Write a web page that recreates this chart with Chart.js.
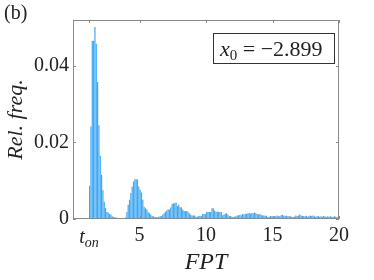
<!DOCTYPE html>
<html lang="en">
<head>
<meta charset="UTF-8">
<title>FPT histogram</title>
<script src="https://cdn.jsdelivr.net/npm/chart.js"></script>
<style>
  body { margin: 0; background: #fff; }
  canvas { display: block; }
</style>
</head>
<body>
<canvas id="fptHist" width="374" height="280"></canvas>
<script>
  // histogram bins: left edge of the first bin and bin width
  const binStart = 1.2;
  const binWidth = 0.1;
  const relFreq = [
    0.0087, 0.0242, 0.0466, 0.0466, 0.0502, 0.0458, 0.0358, 0.0245, 0.0165, 0.0115,
    0.0075, 0.0045, 0.0029, 0.0018, 0.0017, 0.0013, 0.0012, 0.0007, 0.0005, 0.0005,
    0.0003, 0.0003, 0.0002, 0.0002, 0.0001, 0.0001, 0.0002, 0.0004, 0.0018, 0.0037,
    0.0050, 0.0068, 0.0085, 0.0098, 0.0104, 0.0104, 0.0103, 0.0085, 0.0076, 0.0069,
    0.0050, 0.0032, 0.0028, 0.0025, 0.0018, 0.0015, 0.0012, 0.0008, 0.0007, 0.0005,
    0.0005, 0.0004, 0.0006, 0.0007, 0.0008, 0.0012, 0.0015, 0.0019, 0.0022, 0.0025,
    0.0025, 0.0030, 0.0039, 0.0041, 0.0041, 0.0043, 0.0034, 0.0037, 0.0031, 0.0031,
    0.0025, 0.0021, 0.0021, 0.0021, 0.0018, 0.0015, 0.0011, 0.0009, 0.0009, 0.0009,
    0.0006, 0.0006, 0.0008, 0.0008, 0.0008, 0.0013, 0.0013, 0.0013, 0.0019, 0.0018,
    0.0018, 0.0018, 0.0028, 0.0028, 0.0022, 0.0019, 0.0019, 0.0019, 0.0018, 0.0018,
    0.0010, 0.0012, 0.0014, 0.0015, 0.0011, 0.0008, 0.0008, 0.0006, 0.0005, 0.0006,
    0.0007, 0.0009, 0.0010, 0.0011, 0.0010, 0.0013, 0.0012, 0.0014, 0.0013, 0.0015,
    0.0016, 0.0014, 0.0016, 0.0015, 0.0017, 0.0015, 0.0013, 0.0012, 0.0013, 0.0011,
    0.0009, 0.0010, 0.0008, 0.0009, 0.0005, 0.0006, 0.0008, 0.0007, 0.0008, 0.0007,
    0.0008, 0.0009, 0.0007, 0.0008, 0.0010, 0.0011, 0.0009, 0.0008, 0.0009, 0.0007,
    0.0008, 0.0007, 0.0006, 0.0005, 0.0006, 0.0009, 0.0008, 0.0009, 0.0012, 0.0009,
    0.0008, 0.0008, 0.0007, 0.0008, 0.0006, 0.0008, 0.0009, 0.0008, 0.0009, 0.0007,
    0.0006, 0.0007, 0.0008, 0.0006, 0.0007, 0.0006, 0.0008, 0.0007, 0.0005, 0.0007,
    0.0006, 0.0007, 0.0006, 0.0005, 0.0007, 0.0006, 0.0005, 0.0006
  ];
  const tOn = 1.2;
  const xTicks = [tOn, 5, 10, 15, 20];
  const xTickLabels = ['', '5', '10', '15', '20']; // t_on is drawn by the plugin below
  const yTicks = [0, 0.02, 0.04];
  const yTickLabels = ['0', '0.02', '0.04'];
  const x0Text = ' = \u22122.899';

  const serif = "'Liberation Serif', 'DejaVu Serif', serif";
  Chart.defaults.font.family = serif;
  Chart.defaults.color = '#222';

  // box frame with inward ticks, t_on label, x0 box and panel letter
  const decorations = {
    id: 'decorations',
    afterDraw(chart) {
      const { ctx, chartArea: a, scales: { x, y } } = chart;
      ctx.save();
      ctx.strokeStyle = '#8a8a8a';
      ctx.lineWidth = 1;
      ctx.strokeRect(a.left + 0.5, a.top + 0.5, a.right - a.left - 1, a.bottom - a.top - 1);
      ctx.beginPath();
      xTicks.forEach(v => {
        const px = Math.round(x.getPixelForValue(v)) + 0.5;
        ctx.moveTo(px, a.bottom); ctx.lineTo(px, a.bottom - 3);
        ctx.moveTo(px, a.top); ctx.lineTo(px, a.top + 3);
      });
      yTicks.forEach(v => {
        const py = Math.round(y.getPixelForValue(v)) + 0.5;
        ctx.moveTo(a.left, py); ctx.lineTo(a.left + 3, py);
        ctx.moveTo(a.right, py); ctx.lineTo(a.right - 3, py);
      });
      ctx.stroke();

      ctx.fillStyle = '#222';
      ctx.textBaseline = 'alphabetic';
      // t_on
      ctx.font = 'italic 20px ' + serif;
      const wt = ctx.measureText('t').width;
      ctx.font = 'italic 14px ' + serif;
      const wo = ctx.measureText('on').width;
      const cx = x.getPixelForValue(tOn) - (wt + wo) / 2;
      ctx.font = 'italic 20px ' + serif;
      ctx.fillText('t', cx, 243);
      ctx.font = 'italic 14px ' + serif;
      ctx.fillText('on', cx + wt, 247);

      // x0 box
      ctx.font = 'italic 22px ' + serif;
      const wx = ctx.measureText('x').width;
      ctx.font = '15px ' + serif;
      const w0 = ctx.measureText('0').width;
      ctx.font = '22px ' + serif;
      const wr = ctx.measureText(x0Text).width;
      const boxW = Math.round(wx + w0 + wr + 18);
      const boxR = Math.round(a.right) - 5, boxT = 33, boxH = 30;
      const boxL = boxR - boxW;
      ctx.fillStyle = '#fff';
      ctx.fillRect(boxL, boxT, boxW, boxH);
      ctx.strokeStyle = '#333';
      ctx.strokeRect(boxL + 0.5, boxT + 0.5, boxW, boxH);
      ctx.fillStyle = '#222';
      const tx = boxL + 7;
      ctx.font = 'italic 22px ' + serif;
      ctx.fillText('x', tx, boxT + 23);
      ctx.font = '15px ' + serif;
      ctx.fillText('0', tx + wx, boxT + 27);
      ctx.font = '22px ' + serif;
      ctx.fillText(x0Text, tx + wx + w0, boxT + 23);

      // panel letter
      ctx.font = '20px ' + serif;
      ctx.fillText('(b)', 4, 19);
      ctx.restore();
    }
  };

  new Chart(document.getElementById('fptHist'), {
    type: 'bar',
    data: {
      datasets: [{
        data: relFreq.map((f, i) => ({ x: binStart + binWidth * (i + 0.5), y: f })),
        backgroundColor: '#3ea8f4',
        borderWidth: 0,
        barPercentage: 0.9,
        categoryPercentage: 1
      }]
    },
    options: {
      responsive: false,
      animation: false,
      devicePixelRatio: 1,
      layout: { padding: { top: 20, right: 35, left: 0, bottom: 0 } },
      plugins: { legend: { display: false }, tooltip: { enabled: false } },
      scales: {
        x: {
          type: 'linear',
          min: 0,
          max: 20,
          offset: false,
          grid: { display: false, drawTicks: false },
          border: { display: false },
          afterBuildTicks: s => { s.ticks = xTicks.map(v => ({ value: v })); },
          afterFit: s => { s.height = 61; },
          ticks: {
            padding: 5,
            autoSkip: false,
            maxRotation: 0,
            font: { size: 20 },
            callback: (v, i) => xTickLabels[i]
          },
          title: {
            display: true,
            text: 'FPT',
            font: { size: 24, style: 'italic' },
            padding: { top: 0, bottom: 3 }
          }
        },
        y: {
          min: 0,
          max: 0.052,
          grid: { display: false, drawTicks: false },
          border: { display: false },
          afterBuildTicks: s => { s.ticks = yTicks.map(v => ({ value: v })); },
          afterFit: s => { s.width = 73; },
          ticks: {
            padding: 4,
            font: { size: 20 },
            callback: (v, i) => yTickLabels[i]
          },
          title: {
            display: true,
            text: 'Rel. freq.',
            font: { size: 22, style: 'italic' },
            padding: { top: 3, bottom: 0 }
          }
        }
      }
    },
    plugins: [decorations]
  });
</script>
</body>
</html>
